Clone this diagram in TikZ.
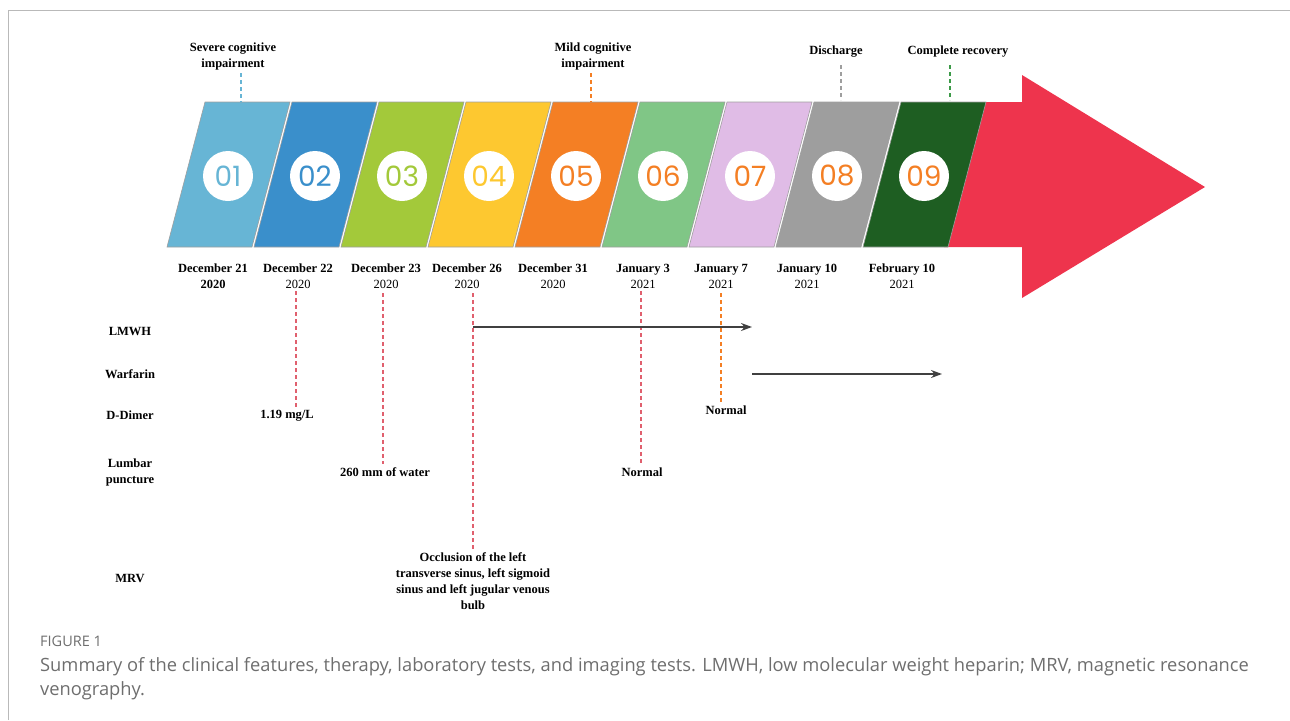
\documentclass[tikz,border=0pt]{standalone}
\usepackage{fontspec}
\setmainfont{Liberation Serif}
\newfontfamily\capfont{Open Sans}
\newfontfamily\numfont{Poppins}
\usetikzlibrary{
	arrows.meta,        %箭头
	positioning         %定位
}
\definecolor{cOne}{HTML}{67B5D5}
\definecolor{cTwo}{HTML}{3A8FCB}
\definecolor{cThree}{HTML}{A3C93A}
\definecolor{cFour}{HTML}{FDC830}
\definecolor{cFive}{HTML}{F47F24}
\definecolor{cSix}{HTML}{80C686}
\definecolor{cSeven}{HTML}{E0BCE6}
\definecolor{cEight}{HTML}{9E9E9E}
\definecolor{cNine}{HTML}{1E5E22}
\definecolor{cArrow}{HTML}{EE344D}
\definecolor{cMark}{HTML}{E0606E}
\definecolor{cGreen}{HTML}{3C9A48}
\definecolor{capgray}{HTML}{6E6E6E}
\tikzset{
	every picture/.style={
		>=Stealth,
		x=1pt,y=-1pt
}}
\tikzset{
	panel/.style={draw=gray!75,line width=0.6pt},
	numcircle/.style={circle,fill=white,minimum size=50pt,inner sep=0pt,
		font=\numfont\fontsize{28}{28}\selectfont},
	event/.style={align=center,font=\bfseries\fontsize{12.5}{16}\selectfont},
	datelabel/.style={align=center,font=\fontsize{12.5}{16}\selectfont},
	rowlabel/.style={align=center,font=\bfseries\fontsize{12.5}{16}\selectfont},
	marker/.style={line width=1.4pt,dash pattern=on 4pt off 3pt},
	therapy/.style={-{Stealth[length=11pt,width=8pt]},line width=1.3pt,draw=black!75}
}

\begin{document}
\begin{tikzpicture}
\useasboundingbox (0,0) rectangle (1290,720);
%外框
\draw[gray!55,line width=0.8pt] (8,720) -- (8,10) -- (1290,10);
%红色大箭头
\fill[cArrow] (944,247) -- (983,102) -- (1022,102) -- (1022,75) -- (1205,187)
	-- (1022,298) -- (1022,247) -- cycle;
%九个平行四边形和编号
\foreach \i/\col/\numcol in {1/cOne/cOne,2/cTwo/cTwo,3/cThree/cThree,
	4/cFour/cFour,5/cFive/cFive,6/cSix/cFive,7/cSeven/cFive,8/cEight/cFive,
	9/cNine/cFive}{
	\pgfmathsetmacro{\bx}{167+87*(\i-1)}
	\draw[panel,fill=\col] (\bx,247) -- ++(38,-145) -- ++(85,0) -- ++(-38,145) -- cycle;
	\node[numcircle,text=\numcol] (n\i) at (\bx+61,176) {0\i};
}
%日期
\node[datelabel] (d1) at (213,276) {\textbf{December 21}\\\textbf{2020}};
\foreach \i/\xx/\dd/\yy in {2/298/December 22/2020,3/386/December 23/2020,
	4/467/December 26/2020,5/553/December 31/2020,6/643/January 3/2021,
	7/721/January 7/2021,8/807/January 10/2021,9/902/February 10/2021}{
	\node[datelabel] (d\i) at (\xx,276) {\textbf{\dd}\\\yy};
}
%上方事件
\node[event] (severe) at (233,56) {Severe cognitive\\impairment};
\node[event] (mild) at (593,56) {Mild cognitive\\impairment};
\node[event] (discharge) at (836,52) {Discharge};
\node[event] (recovery) at (958,52) {Complete recovery};
\draw[marker,cOne] (severe.south -| 241,0) -- (241,102);
\draw[marker,cFive] (mild.south -| 591,0) -- (591,102);
\draw[marker,cEight] (841,65) -- (841,100);
\draw[marker,cGreen] (950,65) -- (950,100);
%左侧项目
\node[rowlabel] (lmwh) at (130,331) {LMWH};
\node[rowlabel] (warf) at (130,374) {Warfarin};
\node[rowlabel] (dimer) at (130,415) {D-Dimer};
\node[rowlabel] (lumbar) at (130,472) {Lumbar\\puncture};
\node[rowlabel] (mrv) at (130,578) {MRV};
%检查结果
\node[event] (rdimer) at (287,416) {1.19 mg/L};
\node[event] (rlumbar) at (385,472) {260 mm of water};
\node[event] (rmrv) at (473,581) {Occlusion of the left\\transverse sinus, left sigmoid\\sinus and left jugular venous\\bulb};
\node[event] (rnorm) at (642,472) {Normal};
\node[event] (rnormb) at (726,410) {Normal};
\coordinate (t2) at (296,291);
\coordinate (t3) at (383,293);
\coordinate (t4) at (473,293);
\coordinate (t6) at (641,291);
\coordinate (t7) at (721,293);
\draw[marker,cMark] (t2) -- (t2 |- rdimer.north);
\draw[marker,cMark] (t3) -- (t3 |- rlumbar.north);
\draw[marker,cMark] (t4) -- (t4 |- rmrv.north);
\draw[marker,cMark] (t6) -- (t6 |- rnorm.north);
\draw[marker,cFive] (t7) -- (t7 |- rnormb.north);
%用药
\draw[therapy] (t4 |- 0,327) -- ++(279,0) coordinate (lend);
\draw[therapy] (lend |- 0,374) -- ++(190,0);
%图注
\node[anchor=west,inner sep=0pt,font=\capfont\fontsize{14.5}{16}\selectfont,text=capgray] (figno) at (40,641) {FIGURE 1};
\node[anchor=north west,align=left,inner sep=0pt,text=capgray,
	font=\capfont\fontsize{18.3}{24.5}\selectfont] (caption) at (40,657)
	{Summary of the clinical features, therapy, laboratory tests, and imaging tests. LMWH, low molecular weight heparin; MRV, magnetic resonance\\venography.};
\end{tikzpicture}
\end{document}
